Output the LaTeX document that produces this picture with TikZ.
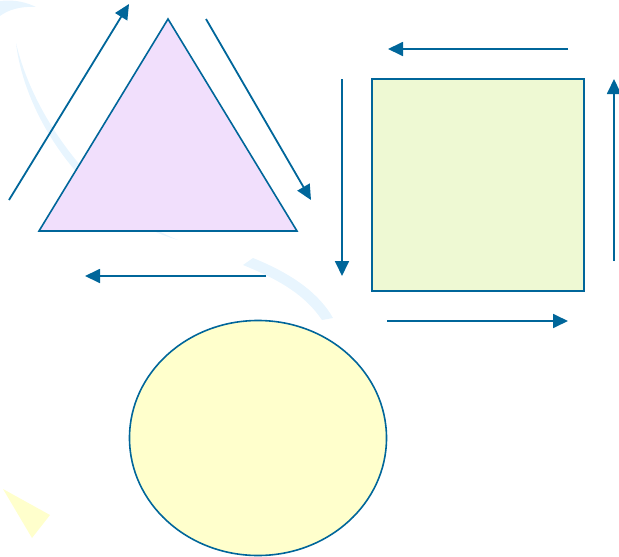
\documentclass[tikz,border=0pt]{standalone}
\usepackage{tikz}
\usetikzlibrary{positioning, arrows.meta, shapes.geometric}
\definecolor{edgeblue}{HTML}{00669A}
\definecolor{lilac}{HTML}{F1DFFC}
\definecolor{lime}{HTML}{EEF9D3}
\definecolor{cream}{HTML}{FFFFCC}
\definecolor{mist}{HTML}{E8F5FE}

\begin{document}
\begin{tikzpicture}[
        x=1pt, y=-1pt,
        outline/.style = {draw=edgeblue, line width=1.6pt, line join=miter},
        flow/.style = {-{Triangle[length=15pt, width=14pt]}, draw=edgeblue, fill=edgeblue, line width=1.8pt},
        swoosh/.style = {fill=mist, draw=none},
    ]
        \useasboundingbox (0,0) rectangle (619,557);
        % background swooshes
        \fill[swoosh] (0,1) .. controls (15,-1) and (28,3) .. (36,7) .. controls (20,6) and (8,10) .. (0,16) -- cycle;
        \fill[swoosh] (16,43) .. controls (25,120) and (90,215) .. (178,240) .. controls (108,212) and (36,128) .. (16,43) -- cycle;
        \fill[swoosh] (253,258) .. controls (295,275) and (320,295) .. (333,318) -- (322,320) .. controls (305,295) and (280,280) .. (243,265) -- cycle;
        \fill[cream] (3,489) -- (50,515) -- (32,538) -- cycle;

        % shapes
        \coordinate (apex) at (168,19);
        \coordinate (bl) at (39,231);
        \coordinate (br) at (297,231);
        \draw[outline, fill=lilac] (apex) -- (br) -- (bl) -- cycle;
        \node[outline, fill=lime, minimum width=212pt, minimum height=212pt, inner sep=0pt] (square) at (478,185) {};
        \node[outline, fill=cream, ellipse, minimum width=257pt, minimum height=235pt, inner sep=0pt] (circle) at (258,438) {};

        % arrows round the triangle
        \coordinate (t1s) at (9,200);   \coordinate (t1e) at (129,4);
        \coordinate (t2s) at (206,19);  \coordinate (t2e) at (311,200);
        \coordinate (t3s) at (266,276); \coordinate (t3e) at (85,276);
        \draw[flow] (t1s) -- (t1e);
        \draw[flow] (t2s) -- (t2e);
        \draw[flow] (t3s) -- (t3e);

        % arrows round the square
        \coordinate (s1s) at (568,49);  \coordinate (s1e) at (388,49);
        \coordinate (s2s) at (342,79);  \coordinate (s2e) at (342,276);
        \coordinate (s3s) at (387,321); \coordinate (s3e) at (568,321);
        \coordinate (s4s) at (614,261); \coordinate (s4e) at (614,79);
        \draw[flow] (s1s) -- (s1e);
        \draw[flow] (s2s) -- (s2e);
        \draw[flow] (s3s) -- (s3e);
        \draw[flow] (s4s) -- (s4e);
    \end{tikzpicture}
\end{document}
